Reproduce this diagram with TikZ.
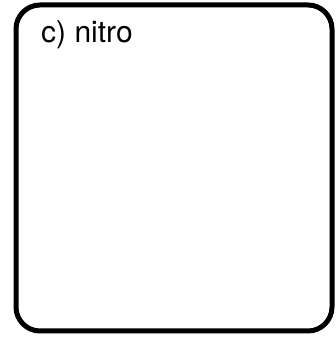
\documentclass[tikz,border=0pt]{standalone}
\usepackage{fontspec}
\setmainfont{TeX Gyre Heros}
\begin{document}
\begin{tikzpicture}[x=1pt,y=1pt,frame/.style={line width=5pt,rounded corners=24pt}]
\useasboundingbox(0,0)rectangle(335,337);
\draw[frame](16,6)rectangle(332,332);
\node(title) at (41,294)[anchor=base west,inner sep=0pt,font=\fontsize{30}{34}\selectfont]{c) nitro};
\end{tikzpicture}
\end{document}
